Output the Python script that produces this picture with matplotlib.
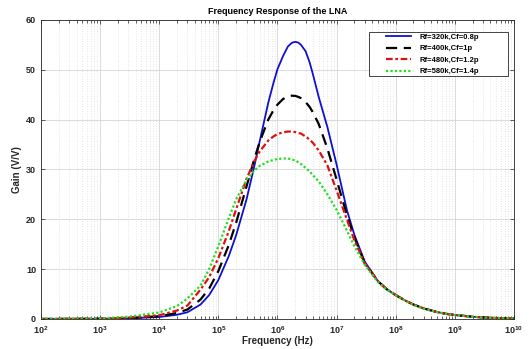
import matplotlib
matplotlib.use("Agg")
import matplotlib.pyplot as plt
from matplotlib.patches import Rectangle
from matplotlib.ticker import LogLocator, NullFormatter

# frequency points (Hz) and gain (V/V)
freq = [1e2, 1e3, 3e3, 1e4, 2e4, 3e4, 5e4, 7e4, 1e5, 1.5e5, 2e5, 3e5, 4e5, 5e5, 7e5,
        8.5e5, 1e6, 1.25e6, 1.5e6, 1.75e6, 2e6, 2.25e6, 2.5e6, 3e6, 3.5e6, 4e6, 5e6, 7e6,
        1e7, 1.5e7, 2e7, 3e7, 5e7, 7e7, 1e8, 1.5e8, 2e8, 3e8, 5e8, 7e8, 1e9, 2e9, 3e9,
        5e9, 1e10]

gain_320k = [0.01, 0.03, 0.12, 0.4, 0.85, 1.35, 2.9, 4.8, 7.8, 12.6, 16.8, 24.0, 30.3, 35.6, 43.4,
             47.2, 50.1, 52.8, 54.65, 55.4, 55.6, 55.45, 55.0, 53.7, 51.5, 49.0, 44.5, 38.5,
             31.0, 21.8, 16.9, 11.5, 7.6, 6.0, 4.8, 3.6, 2.9, 2.1, 1.4, 1.05, 0.8, 0.45, 0.32,
             0.2, 0.12]
gain_400k = [0.011, 0.05, 0.2, 0.55, 1.2, 1.9, 3.9, 6.1, 9.6, 14.8, 19.3, 26.6, 31.8, 35.5, 40.0,
             41.8, 43.0, 44.15, 44.64, 44.8, 44.75, 44.56, 44.3, 43.5, 42.55, 41.4, 39.1, 34.2,
             28.0, 20.8, 16.4, 11.2, 7.6, 6.0, 4.8, 3.6, 2.9, 2.1, 1.4, 1.05, 0.8, 0.45, 0.32,
             0.2, 0.12]
gain_480k = [0.014, 0.07, 0.27, 0.75, 1.7, 2.7, 5.9, 8.4, 12.2, 17.6, 22.0, 28.1, 31.5, 33.6, 35.8,
             36.6, 37.1, 37.45, 37.6, 37.6, 37.5, 37.3, 37.2, 36.6, 36.0, 35.3, 33.8, 30.8,
             25.8, 19.9, 15.8, 11.1, 7.6, 6.0, 4.8, 3.6, 2.9, 2.1, 1.4, 1.05, 0.8, 0.45, 0.32,
             0.2, 0.12]
gain_580k = [0.018, 0.12, 0.45, 1.3, 2.6, 4.1, 6.7, 10.0, 14.6, 20.2, 24.0, 27.9, 29.7, 30.7, 31.6,
             31.9, 32.1, 32.2, 32.2, 32.0, 31.8, 31.45, 31.1, 30.3, 29.6, 28.8, 27.6, 25.0,
             21.9, 17.7, 14.6, 10.9, 7.4, 5.9, 4.75, 3.55, 2.85, 2.05, 1.38, 1.03, 0.78, 0.44,
             0.31, 0.19, 0.11]

labels = ["Rf=320k,Cf=0.8p", "Rf=400k,Cf=1p", "Rf=480k,Cf=1.2p", "Rf=580k,Cf=1.4p"]
xticks = [1e2, 1e3, 1e4, 1e5, 1e6, 1e7, 1e8, 1e9, 1e10]

plt.rcParams['font.family'] = ['Liberation Sans', 'DejaVu Sans']

fig = plt.figure(figsize=(5.32, 3.49), dpi=100)
ax = fig.add_axes([0.077, 0.086, 0.889, 0.857])

ax.semilogx(freq, gain_320k, color='#1010d0', lw=1.3, ls='-', label=labels[0])
ax.semilogx(freq, gain_400k, color='black', lw=1.6, ls=(0, (5, 3)), label=labels[1])
ax.semilogx(freq, gain_480k, color='#e01010', lw=1.6, ls=(0, (3, 1.2, 1.2, 1.2)), label=labels[2])
ax.semilogx(freq, gain_580k, color='#20e020', lw=1.6, ls=(0, (1, 1)), label=labels[3])

ax.set_xlim(1e2, 1e10)
ax.set_ylim(0, 60)
ax.set_yticks(range(0, 61, 10))
ax.set_xticks(xticks)
ax.xaxis.set_minor_locator(LogLocator(base=10, subs=range(2, 10), numticks=100))
ax.xaxis.set_minor_formatter(NullFormatter())

ax.grid(True, which='major', color='#d6d6d6', lw=0.6, ls='-')
ax.grid(True, which='minor', axis='x', color='#dcdcdc', lw=0.6, ls=(0, (1, 2)))
ax.set_axisbelow(True)

ax.tick_params(which='both', direction='in', top=True, right=True, colors='#262626',
               labelsize=6.5, length=3, width=0.5)
ax.tick_params(which='minor', length=2)
for s in ax.spines.values():
    s.set_color('#262626')
    s.set_linewidth(0.6)
for t in ax.get_xticklabels() + ax.get_yticklabels():
    t.set_fontweight('bold')

ax.set_xlabel('Frequency (Hz)', fontsize=7, fontweight='bold', color='#262626', labelpad=0)
ax.set_ylabel('Gain (V/V)', fontsize=7, fontweight='bold', color='#262626', labelpad=3)
ax.set_title('Frequency Response of the LNA', fontsize=6.5, fontweight='bold', pad=4)

# legend box drawn separately, Octave style
ax.add_patch(Rectangle((0.693, 0.813), 0.295, 0.147, transform=ax.transAxes,
                       facecolor='white', edgecolor='#262626', lw=0.6, zorder=4))
leg = ax.legend(loc='upper left', bbox_to_anchor=(0.73, 0.955), frameon=False,
                borderaxespad=0, borderpad=0, handlelength=3.3, handletextpad=1.1,
                labelspacing=0.55, prop={'weight': 'bold', 'size': 5.5})
leg.set_zorder(5)

fig.savefig("out.png", dpi=100)
